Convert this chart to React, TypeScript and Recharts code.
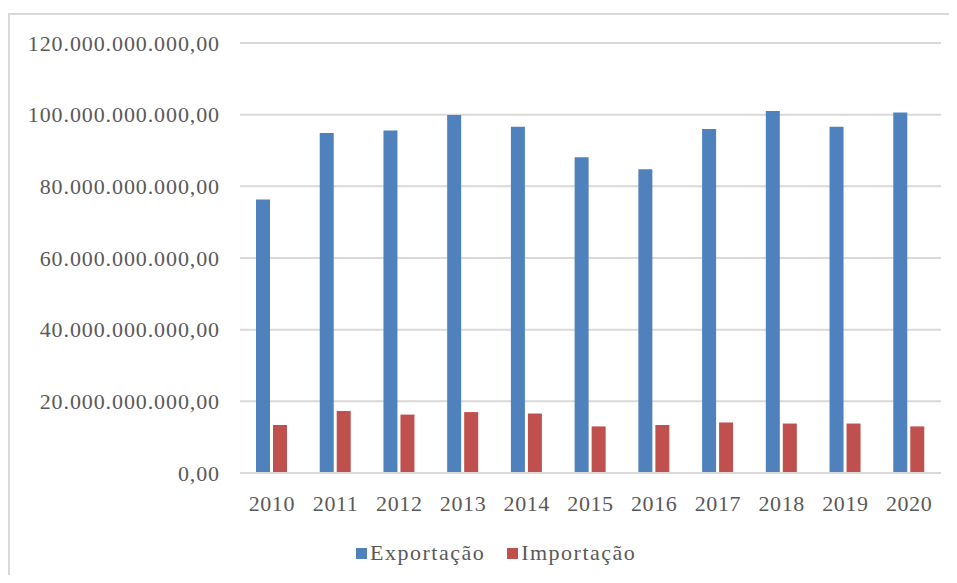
import React from 'react';
import { BarChart, Bar, XAxis, YAxis, CartesianGrid, Legend } from 'recharts';

const years = ['2010', '2011', '2012', '2013', '2014', '2015', '2016', '2017', '2018', '2019', '2020'];
const exportacao = [76.3e9, 94.9e9, 95.6e9, 99.9e9, 96.6e9, 88.1e9, 84.8e9, 96.0e9, 101.0e9, 96.6e9, 100.6e9];
const importacao = [13.4e9, 17.3e9, 16.3e9, 17.0e9, 16.6e9, 13.0e9, 13.4e9, 14.1e9, 13.8e9, 13.8e9, 13.0e9];
const yTicks = [0, 20e9, 40e9, 60e9, 80e9, 100e9, 120e9];

const BLUE = '#4F81BD';
const RED = '#C0504D';
const GRID = '#D9D9D9';
const TEXT = '#595959';
const FONT = '"Liberation Serif", "Times New Roman", serif';

// 120000000000 -> "120.000.000.000,00"
const fmtBR = (v: number) => {
  const int = Math.round(v).toString().replace(/\B(?=(\d{3})+(?!\d))/g, '.');
  return `${int},00`;
};

const data = years.map((y, i) => ({ year: y, exp: exportacao[i], imp: importacao[i] }));

const legendItems = [
  { label: 'Exportação', color: BLUE },
  { label: 'Importação', color: RED },
];

function LegendContent() {
  return (
    <div style={{ display: 'flex', alignItems: 'center', height: 24, fontFamily: FONT, fontSize: 22, letterSpacing: 1.5, color: TEXT, whiteSpace: 'nowrap' }}>
      {legendItems.map((it, i) => (
        <div key={it.label} style={{ display: 'flex', alignItems: 'center', marginLeft: i === 0 ? 0 : 22 }}>
          <span style={{ width: 11, height: 11, background: it.color, marginRight: 3, display: 'inline-block' }} />
          <span>{it.label}</span>
        </div>
      ))}
    </div>
  );
}

export default function App() {
  return (
    <div style={{ position: 'relative', width: 949, height: 567, overflow: 'hidden' }}>
      <div
        style={{
          position: 'absolute', left: 0, top: 5, width: 960, height: 600,
          borderTop: `2px solid ${GRID}`, borderLeft: `2px solid ${GRID}`,
        }}
      />
      <div style={{ position: 'absolute', left: 0, top: 0 }}>
        <BarChart
          width={949}
          height={567}
          data={data}
          margin={{ top: 35, right: 16, left: 0, bottom: 10 }}
          barSize={14}
          barGap={3}
        >
          <CartesianGrid vertical={false} stroke={GRID} strokeWidth={2} />
          <XAxis
            dataKey="year"
            height={68}
            tickSize={0}
            tickMargin={22}
            axisLine={{ stroke: GRID, strokeWidth: 2 }}
            tickLine={false}
            tick={{ fill: TEXT, fontSize: 22, fontFamily: FONT, letterSpacing: 0.6 }}
            interval={0}
          />
          <YAxis
            width={232}
            domain={[0, 120e9]}
            ticks={yTicks}
            tickFormatter={fmtBR}
            tickSize={0}
            tickMargin={20}
            axisLine={false}
            tickLine={false}
            tick={{ fill: TEXT, fontSize: 22, fontFamily: FONT, letterSpacing: 0.9 }}
          />
          <Legend
            verticalAlign="bottom"
            content={<LegendContent />}
            wrapperStyle={{ left: 348, width: 340 }}
          />
          <Bar dataKey="exp" name="Exportação" fill={BLUE} isAnimationActive={false} />
          <Bar dataKey="imp" name="Importação" fill={RED} isAnimationActive={false} />
        </BarChart>
      </div>
    </div>
  );
}
